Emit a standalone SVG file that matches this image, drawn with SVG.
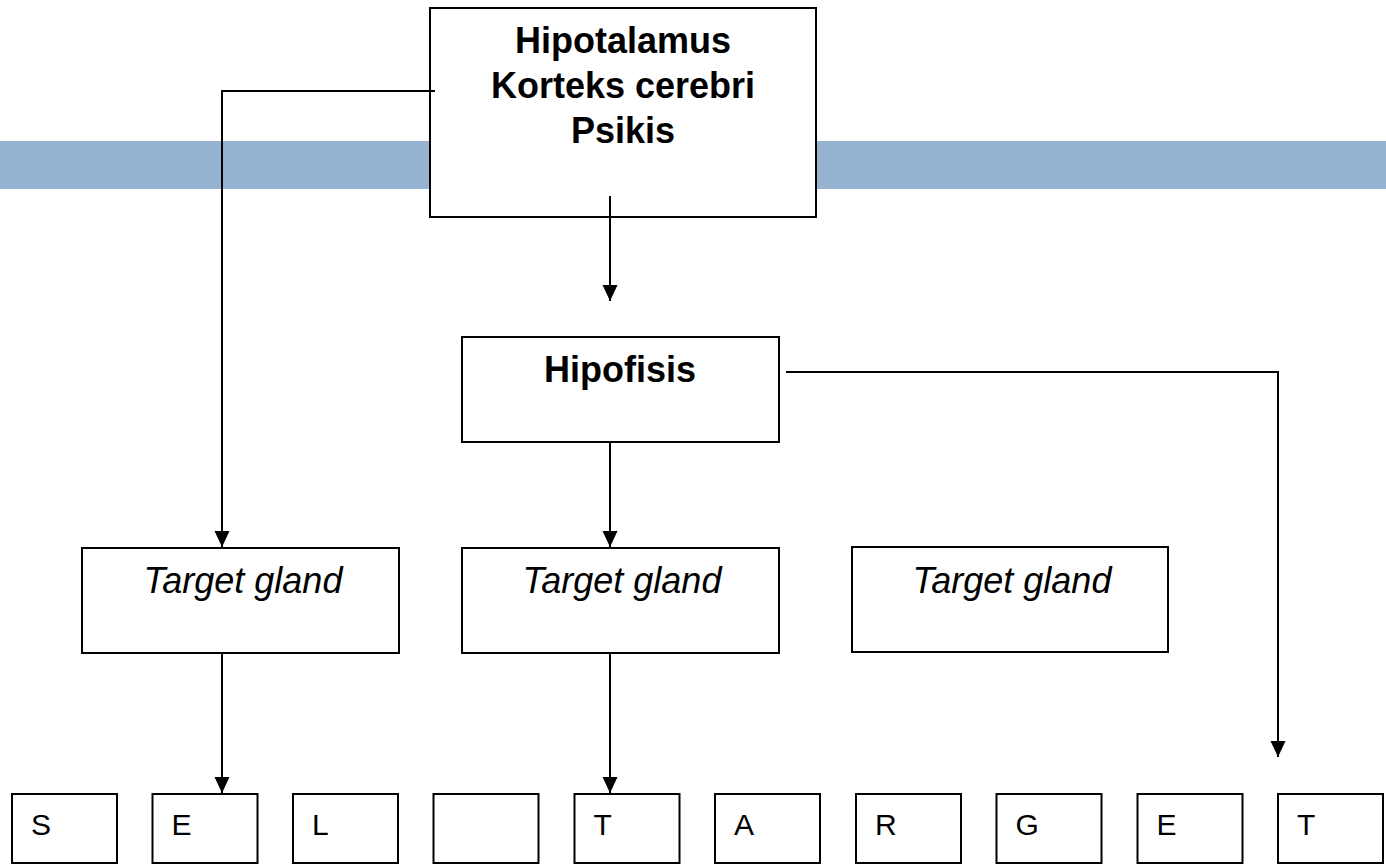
<svg xmlns="http://www.w3.org/2000/svg" width="1386" height="866" viewBox="0 0 1386 866">
<style>
.box{fill:#fff;stroke:#000;stroke-width:2}
.conn{fill:none;stroke:#000;stroke-width:2}
.b{font-family:"Liberation Sans",Arial,sans-serif;font-weight:bold;font-size:36px;text-anchor:middle;fill:#000}
.i{font-family:"Liberation Sans",Arial,sans-serif;font-style:italic;font-size:36px;text-anchor:middle;fill:#000}
.l{font-family:"Liberation Sans",Arial,sans-serif;font-size:30px;fill:#000}
</style>
<defs>
<marker id="arr" markerUnits="userSpaceOnUse" markerWidth="17" markerHeight="17" viewBox="0 0 17 17" refX="16" refY="8.5" orient="auto">
<path d="M0,1 L16,8.5 L0,16 Z" fill="#000"/>
</marker>
</defs>
<rect x="0" y="141" width="1386" height="48" fill="#95B3D1"/>
<g id="connectors">
<polyline class="conn" points="435,91 222,91 222,547" marker-end="url(#arr)"/>
<line class="conn" x1="610" y1="196" x2="610" y2="301" marker-end="url(#arr)"/>
<line class="conn" x1="610" y1="442" x2="610" y2="547" marker-end="url(#arr)"/>
<polyline class="conn" points="786,372 1278,372 1278,757" marker-end="url(#arr)"/>
<line class="conn" x1="222" y1="653" x2="222" y2="793" marker-end="url(#arr)"/>
<line class="conn" x1="610" y1="653" x2="610" y2="793" marker-end="url(#arr)"/>
</g>
<g id="hipotalamus">
<rect class="box" x="430" y="8" width="386" height="209"/>
<text class="b" x="623" y="53">Hipotalamus</text>
<text class="b" x="623" y="98">Korteks cerebri</text>
<text class="b" x="623" y="143">Psikis</text>
</g>
<g id="connector-stubs">
<line class="conn" x1="428" y1="91" x2="435" y2="91"/>
<line class="conn" x1="610" y1="196" x2="610" y2="217"/>
</g>
<g id="hipofisis">
<rect class="box" x="462" y="337" width="317" height="105"/>
<text class="b" x="620" y="382">Hipofisis</text>
</g>
<g id="target1">
<rect class="box" x="82" y="548" width="317" height="105"/>
<text class="i" x="243" y="593">Target gland</text>
</g>
<g id="target2">
<rect class="box" x="462" y="548" width="317" height="105"/>
<text class="i" x="622" y="593">Target gland</text>
</g>
<g id="target3">
<rect class="box" x="852" y="547" width="316" height="105"/>
<text class="i" x="1012" y="593">Target gland</text>
</g>
<g id="letter1"><rect class="box" x="12" y="794" width="105" height="69"/><text class="l" x="31" y="835">S</text></g>
<g id="letter2"><rect class="box" x="152.5" y="794" width="105" height="69"/><text class="l" x="171.5" y="835">E</text></g>
<g id="letter3"><rect class="box" x="293" y="794" width="105" height="69"/><text class="l" x="312" y="835">L</text></g>
<g id="letter4"><rect class="box" x="433.5" y="794" width="105" height="69"/></g>
<g id="letter5"><rect class="box" x="574.5" y="794" width="105" height="69"/><text class="l" x="593.5" y="835">T</text></g>
<g id="letter6"><rect class="box" x="715" y="794" width="105" height="69"/><text class="l" x="734" y="835">A</text></g>
<g id="letter7"><rect class="box" x="856" y="794" width="105" height="69"/><text class="l" x="875" y="835">R</text></g>
<g id="letter8"><rect class="box" x="996.5" y="794" width="105" height="69"/><text class="l" x="1015.5" y="835">G</text></g>
<g id="letter9"><rect class="box" x="1137.5" y="794" width="105" height="69"/><text class="l" x="1156.5" y="835">E</text></g>
<g id="letter10"><rect class="box" x="1278" y="794" width="105" height="69"/><text class="l" x="1297" y="835">T</text></g>
</svg>
